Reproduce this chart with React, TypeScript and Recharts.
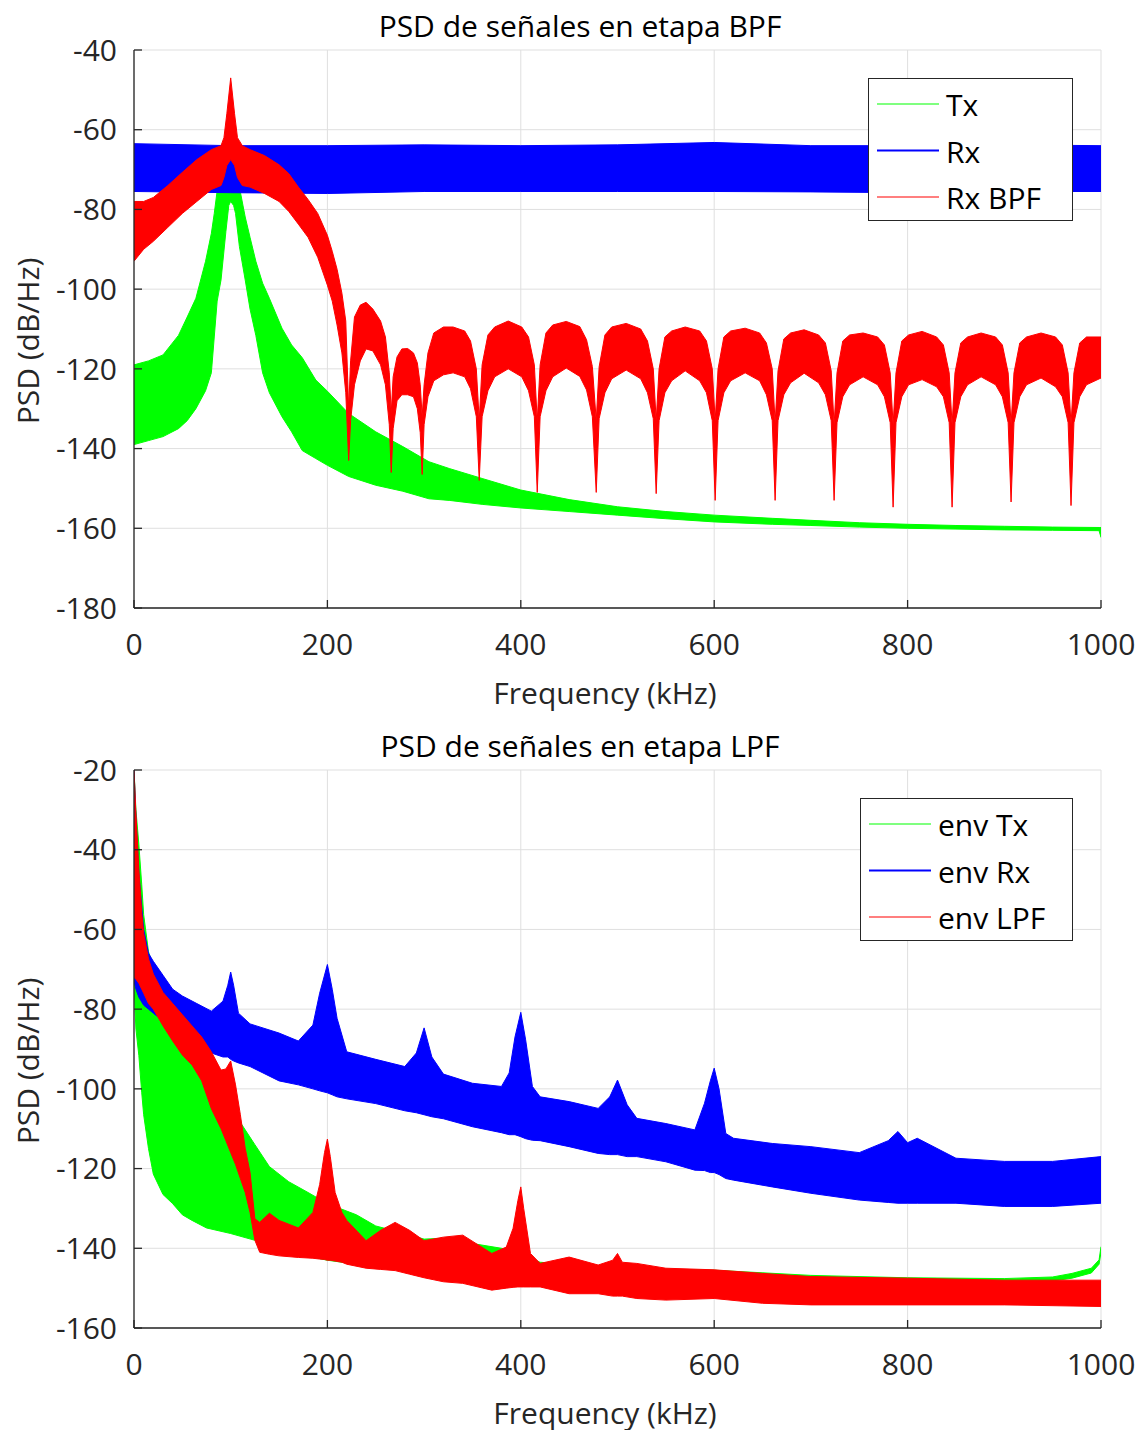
import React from 'react';
import { ComposedChart, Area, XAxis, YAxis, CartesianGrid } from 'recharts';

// shared axis ticks
const freqTicks = [0, 200, 400, 600, 800, 1000];
const bpfTicks = [-180, -160, -140, -120, -100, -80, -60, -40];
const lpfTicks = [-160, -140, -120, -100, -80, -60, -40, -20];

// ---- BPF stage (top) : noise bands read as [low, high] envelopes, dB/Hz ----
const txFreq = [0, 15, 30, 46, 55, 64, 74, 80, 83, 86, 90, 95, 98, 100, 103, 105, 109, 115, 120, 126, 133, 140, 153, 163, 174, 188, 200, 222, 250, 278, 305, 326, 360, 400, 450, 500, 550, 600, 660, 700, 750, 800, 850, 900, 950, 998, 1000];
const txHigh = [-119, -118, -116.5, -111.6, -107, -102.3, -93, -86, -81, -75.3, -73.5, -71.6, -69, -68.5, -69.5, -71, -74.4, -81.9, -87, -93, -98.5, -102.3, -109.8, -114, -117.2, -122.8, -125.6, -131.2, -135.8, -139.5, -143.3, -145, -147.5, -150.4, -152.8, -154.6, -155.8, -156.7, -157.5, -158, -158.6, -159, -159.3, -159.5, -159.7, -159.8, -159.8];
const txLow = [-139, -138, -137, -135, -133, -130, -125.5, -121, -112, -103, -97.7, -85.6, -79, -78, -79, -81, -89.3, -97.7, -105, -111.6, -121, -126, -132, -135.8, -140.5, -142.5, -144.2, -147, -149.2, -150.7, -152.6, -153, -154, -154.9, -155.8, -156.7, -157.6, -158.4, -159, -159.3, -159.7, -160, -160.2, -160.4, -160.5, -160.6, -162.3];

const rxFreq = [0, 100, 200, 300, 400, 500, 600, 700, 800, 900, 1000];
const rxHigh = [-63.5, -64, -64, -63.8, -64, -63.8, -63.2, -64, -64, -63.8, -64];
const rxLow = [-75.5, -75.8, -76, -75.5, -75.5, -75.5, -75.5, -75.6, -75.8, -75.5, -75.5];

const bpfFreq = [
  0, 10, 20, 35, 50, 65, 80, 90, 93, 96, 100, 104, 107, 112, 120, 135, 150, 160, 170, 180, 190, 200, 205, 210, 215, 219, 222,
  224, 228, 234, 240, 247, 255, 260, 264, 266,
  268, 272, 277, 283, 289, 293, 296, 298,
  300, 304, 310, 320, 330, 342, 348, 354, 357,
  360, 366, 373, 387, 401, 408, 414, 417,
  420, 426, 433, 447, 461, 468, 474, 478,
  481, 487, 494, 509, 524, 531, 537, 540,
  543, 549, 556, 570, 585, 592, 598, 601,
  604, 610, 617, 632, 647, 654, 660, 663,
  666, 672, 679, 693, 708, 715, 721, 724,
  727, 733, 740, 754, 769, 776, 782, 785,
  788, 794, 801, 815, 830, 837, 843, 846,
  849, 855, 862, 876, 891, 898, 904, 907,
  910, 916, 923, 938, 953, 960, 966, 969,
  972, 978, 985, 1000,
];
const bpfHigh = [
  -78, -78, -77, -74, -70.7, -67.5, -65, -64, -62, -56, -47, -56, -62, -64, -65, -66.5, -68.8, -71, -74.4, -77.5, -81, -86.5, -90.5, -95, -101, -108, -130,
  -118, -107, -104, -103.3, -105, -108, -112, -121, -131,
  -122, -117, -115, -114.9, -116, -118.5, -124, -132,
  -124, -116, -111, -109.5, -109.5, -110.5, -113, -120, -133,
  -119, -111.5, -109.5, -108, -109.5, -112, -119, -133,
  -119, -111, -109, -108.1, -109.4, -112.7, -119.4, -133,
  -119.5, -111.5, -109.5, -108.6, -110, -113, -120, -133,
  -120, -112, -110.5, -109.5, -110.5, -113, -120, -133,
  -120, -112, -110.5, -109.8, -111, -113.5, -120, -133.5,
  -120.5, -112.5, -111, -110.2, -111.5, -113.5, -120.5, -134,
  -121, -113, -111.5, -111, -112, -114, -121, -134,
  -121, -113, -111.5, -110.6, -112, -114, -121, -134,
  -121, -113.5, -112, -111, -112, -114, -121, -134,
  -121, -113.5, -112, -111, -112, -114, -121, -134,
  -121, -113.5, -112, -112,
];
const bpfLow = [
  -93, -90, -88, -84.5, -81, -78, -75, -74, -72, -69, -67.5, -69, -72, -74, -74.4, -76, -78, -80.5, -83.7, -87, -92, -99, -103, -109, -116, -126, -143,
  -133, -124, -118, -115, -115.5, -119, -124, -134, -146,
  -135, -128, -126.5, -126.5, -127, -130, -136, -146.5,
  -134, -127, -123, -121.5, -121, -122, -125, -132, -148,
  -132, -125.5, -122, -120, -122, -125.5, -132, -151,
  -132, -125.5, -122, -119.8, -121.9, -125.3, -132, -151,
  -132.5, -126, -122.5, -120.3, -122.5, -126, -132.5, -151.3,
  -133, -126, -123, -120.5, -123, -126, -133, -153,
  -133, -126, -123, -121, -123, -126.5, -133, -153,
  -133, -126.5, -123.5, -121.1, -123.5, -126.5, -133, -153,
  -133.5, -127, -124, -122, -124, -127, -133.5, -154.7,
  -133.5, -127, -124, -122.7, -124.5, -127, -133.5, -154.7,
  -133.5, -127, -124, -122, -124, -127, -133.5, -153.4,
  -133.5, -127, -124, -122.3, -124.5, -127, -133.5, -154.3,
  -133.5, -127, -124, -122.3,
];

// ---- LPF stage (bottom) ----
const envTxFreq = [0, 1, 2, 5, 8, 10, 15, 20, 30, 40, 50, 60, 75, 100, 125, 140, 150, 160, 180, 200, 230, 250, 280, 300, 320, 350, 380, 420, 500, 600, 700, 800, 900, 950, 970, 990, 998, 1000];
const envTxHigh = [-20, -25, -30, -38.6, -48.8, -56.3, -65.6, -69.3, -74.9, -81.4, -86, -89.8, -95, -104.7, -114, -119.5, -121.4, -123.3, -126, -128.8, -131.6, -134.4, -136.3, -137.7, -137.5, -138.8, -140, -143.5, -145, -145.5, -146.8, -147.4, -147.6, -147.2, -146.3, -145, -142.9, -139.6];
const envTxLow = [-73, -80, -85, -91.6, -101, -106.5, -115, -121.4, -126.5, -128.8, -131.6, -133, -134.9, -136.3, -138, -139, -140, -141, -142, -143, -144, -144.5, -145, -145.5, -146, -146.5, -147, -147.5, -148, -148.3, -148.5, -148.7, -148.6, -148.2, -147.5, -146.2, -144, -141];

const envRxFreq = [0, 2, 5, 10, 15, 20, 30, 40, 50, 65, 80, 92, 97, 100, 103, 108, 120, 150, 170, 185, 192, 200, 205, 210, 220, 250, 280, 292, 300, 308, 320, 350, 380, 388, 394, 400, 405, 412, 420, 450, 480, 492, 500, 510, 520, 550, 580, 590, 596, 600, 605, 612, 620, 660, 700, 750, 780, 790, 800, 810, 850, 900, 950, 1000];
const envRxHigh = [-20, -32, -46, -60, -66, -68, -71.5, -75, -76.7, -78.6, -80.5, -78, -74, -70.7, -74, -81, -83.7, -86, -88, -84, -76, -68.8, -75, -82.3, -90.7, -92.6, -94.4, -91, -84.7, -92, -96.3, -98.6, -99.4, -96, -87, -80.8, -87.7, -99.4, -102, -103.2, -104.9, -102, -97.8, -104, -107.4, -108.7, -110.3, -103.6, -98, -94.8, -100, -111.2, -112.4, -113.7, -114.5, -116, -113, -110.7, -113.5, -112.4, -117.4, -118.2, -118.2, -117];
const envRxLow = [-73, -75, -77, -79, -80, -81, -83, -85, -86, -88.5, -91, -92, -92, -92.6, -93, -93.5, -94.4, -98, -99, -100, -100.5, -101, -101.5, -102, -102.5, -103.7, -105.5, -106, -106.5, -107, -107.5, -109.5, -111, -111.5, -111.5, -112, -112.5, -112.9, -113, -114.5, -116.2, -116.5, -116.5, -117, -117, -118.3, -120.4, -120.5, -121, -121, -121.5, -122.5, -122.9, -124.6, -126.2, -127.9, -128.5, -128.7, -128.7, -128.7, -128.7, -129.5, -129.5, -128.7];

const envLpfFreq = [0, 2, 5, 8, 10, 15, 20, 30, 40, 50, 60, 70, 80, 90, 95, 100, 105, 110, 115, 120, 125, 130, 140, 150, 170, 185, 192, 197, 200, 203, 208, 215, 220, 240, 255, 270, 285, 300, 320, 340, 370, 385, 392, 397, 400, 403, 410, 420, 450, 480, 495, 500, 505, 520, 550, 600, 650, 700, 800, 900, 1000];
const envLpfHigh = [-20, -31, -45, -56, -61, -67.4, -71.2, -75.8, -78.6, -81.4, -84.2, -87, -90.7, -95.3, -95, -93, -99, -106.5, -114.9, -121, -132.6, -133.5, -131.2, -133, -134.9, -131, -124, -116, -112.6, -117, -126, -131, -133, -138.1, -135.5, -133.5, -135.5, -138.1, -137.2, -136.7, -141.3, -139.7, -135, -128, -124.6, -130, -141.3, -143.8, -142.2, -144.2, -143, -141.3, -143.5, -143.8, -145, -145.4, -146.3, -147.1, -147.5, -148, -148];
const envLpfLow = [-72, -72.5, -73.5, -75, -76, -78.6, -80, -84.2, -88, -91.5, -94, -98, -105, -110, -113, -116, -119, -122.5, -126, -131, -138, -141, -141.5, -141.9, -142.3, -142.5, -142.7, -142.8, -143, -143, -143.2, -143.5, -144, -145, -145.3, -145.6, -146.5, -147.4, -148.4, -148.8, -150.5, -150, -149.8, -149.7, -149.7, -149.7, -149.7, -149.7, -151.4, -151.4, -152, -152, -152, -152.6, -153, -152.6, -153.8, -154.2, -154.2, -154.2, -154.6];

const band = (freq: number[], low: number[], high: number[]) =>
  freq.map((f, i) => ({ f, band: [low[i], high[i]] }));

const GREEN = '#00ff00';
const BLUE = '#0000ff';
const RED = '#ff0000';
const INK = '#262626';
const FONT = '"Open Sans", "Noto Sans", sans-serif';
const FS = 30;

const topSeries = [
  { name: 'Tx', color: GREEN, data: band(txFreq, txLow, txHigh) },
  { name: 'Rx', color: BLUE, data: band(rxFreq, rxLow, rxHigh) },
  { name: 'Rx BPF', color: RED, data: band(bpfFreq, bpfLow, bpfHigh) },
];
const bottomSeries = [
  { name: 'env Tx', color: GREEN, data: band(envTxFreq, envTxLow, envTxHigh) },
  { name: 'env Rx', color: BLUE, data: band(envRxFreq, envRxLow, envRxHigh) },
  { name: 'env LPF', color: RED, data: band(envLpfFreq, envLpfLow, envLpfHigh) },
];

type Series = { name: string; color: string; data: { f: number; band: number[] }[] };

const PsdPanel = ({ top, title, yTicks, series, legend }: {
  top: number; title: string; yTicks: number[]; series: Series[];
  legend: { left: number; top: number; width: number };
}) => (
  <div style={{ position: 'absolute', left: 0, top, width: 1139, height: 720 }}>
    <ComposedChart width={1139} height={720} margin={{ top: 50, right: 38, bottom: 12, left: 0 }}>
      <CartesianGrid stroke="#dfdfdf" strokeWidth={1} />
      <XAxis
        dataKey="f" type="number" domain={[0, 1000]} ticks={freqTicks} allowDataOverflow
        height={100} tickSize={-8} tickMargin={34}
        axisLine={{ stroke: INK, strokeWidth: 1.3 }} tickLine={{ stroke: INK, strokeWidth: 1.3 }}
        tick={{ fill: INK, fontSize: FS, fontFamily: FONT }}
      />
      <YAxis
        type="number" domain={[yTicks[0], yTicks[yTicks.length - 1]]} ticks={yTicks} allowDataOverflow
        width={134} tickSize={-8} tickMargin={25}
        axisLine={{ stroke: INK, strokeWidth: 1.3 }} tickLine={{ stroke: INK, strokeWidth: 1.3 }}
        tick={{ fill: INK, fontSize: FS, fontFamily: FONT }}
      />
      {series.map((s) => (
        <Area
          key={s.name} name={s.name} data={s.data} dataKey="band" type="linear"
          stroke={s.color} strokeWidth={1} fill={s.color} fillOpacity={1}
          dot={false} activeDot={false} isAnimationActive={false}
        />
      ))}
    </ComposedChart>
    <div style={{ position: 'absolute', left: 580, top: 25, transform: 'translate(-50%, -50%)', fontSize: FS, fontFamily: FONT, color: '#000', whiteSpace: 'nowrap' }}>
      {title}
    </div>
    <div style={{ position: 'absolute', left: 605, top: 692, transform: 'translate(-50%, -50%)', fontSize: FS, fontFamily: FONT, color: INK, whiteSpace: 'nowrap' }}>
      Frequency (kHz)
    </div>
    <div style={{ position: 'absolute', left: 27, top: 341, transform: 'translate(-50%, -50%) rotate(-90deg)', fontSize: FS, fontFamily: FONT, color: INK, whiteSpace: 'nowrap' }}>
      PSD (dB/Hz)
    </div>
    <div style={{ position: 'absolute', left: legend.left, top: legend.top, width: legend.width, height: 143, boxSizing: 'border-box', border: `1.3px solid ${INK}`, background: '#fff', fontFamily: FONT, fontSize: FS, color: '#000' }}>
      {series.map((s, i) => (
        <div key={s.name} style={{ position: 'absolute', left: 8, top: 25 + i * 46.5, transform: 'translateY(-50%)', display: 'flex', alignItems: 'center', whiteSpace: 'nowrap' }}>
          <span style={{ display: 'inline-block', width: 62, height: 1.5, background: s.color, marginRight: 7 }} />
          <span>{s.name}</span>
        </div>
      ))}
    </div>
  </div>
);

export default function App() {
  return (
    <div style={{ position: 'absolute', left: 0, top: 0, width: 1139, height: 1430, background: '#fff' }}>
      <PsdPanel top={0} title="PSD de señales en etapa BPF" yTicks={bpfTicks} series={topSeries}
        legend={{ left: 868, top: 78, width: 205 }} />
      <PsdPanel top={720} title="PSD de señales en etapa LPF" yTicks={lpfTicks} series={bottomSeries}
        legend={{ left: 860, top: 78, width: 213 }} />
    </div>
  );
}
